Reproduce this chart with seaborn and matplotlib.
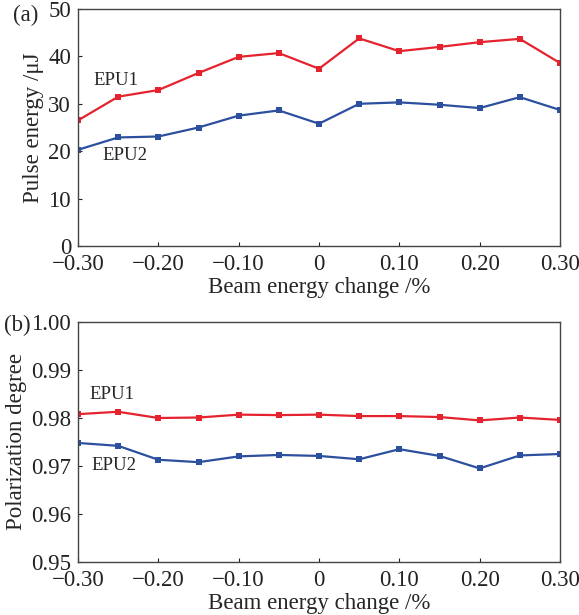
import numpy as np
import pandas as pd
import seaborn as sns
import matplotlib.pyplot as plt

sns.set_style("ticks")
plt.rcParams["font.family"] = ["Liberation Serif", "DejaVu Serif"]

beam_change = [-0.30, -0.25, -0.20, -0.15, -0.10, -0.05, 0.0, 0.05, 0.10, 0.15, 0.20, 0.25, 0.30]
pulse_epu1 = [26.5, 31.5, 32.9, 36.5, 39.9, 40.7, 37.4, 43.8, 41.1, 42.0, 43.0, 43.7, 38.6]
pulse_epu2 = [20.3, 22.9, 23.1, 25.0, 27.5, 28.6, 25.8, 30.0, 30.3, 29.8, 29.1, 31.4, 28.7]
pol_epu1 = [0.9808, 0.9813, 0.9800, 0.9801, 0.9807, 0.9806, 0.9807, 0.9804, 0.9804, 0.9802, 0.9795, 0.9801, 0.9796]
pol_epu2 = [0.9748, 0.9742, 0.9713, 0.9708, 0.9720, 0.9723, 0.9721, 0.9714, 0.9735, 0.9721, 0.9695, 0.9722, 0.9725]
xtick_vals = [-0.30, -0.20, -0.10, 0.0, 0.10, 0.20, 0.30]
xtick_labels = ["\u22120.30", "\u22120.20", "\u22120.10", "0", "0.10", "0.20", "0.30"]

red = "#e5232f"
blue = "#2c4f9e"
fs = 16.5

fig = plt.figure(figsize=(5.79, 6.15), dpi=100)
ax1 = fig.add_axes([78 / 579, 1 - 246 / 615, 482 / 579, 237 / 615])
ax2 = fig.add_axes([78 / 579, 1 - 562 / 615, 482 / 579, 240 / 615])

def draw(ax, y1, y2):
    df = pd.DataFrame({"x": beam_change * 2, "y": y1 + y2,
                       "unit": ["EPU1"] * len(y1) + ["EPU2"] * len(y2)})
    sns.lineplot(data=df, x="x", y="y", hue="unit", palette=[red, blue],
                 marker="s", markersize=5, markeredgewidth=0, linewidth=1.6,
                 legend=False, ax=ax)
    ax.set_xlim(-0.30, 0.30)
    ax.set_xticks(xtick_vals)
    ax.set_xticklabels(xtick_labels)
    ax.tick_params(direction="in", length=3, width=0.8, labelsize=fs, colors="#222222")
    ax.tick_params(axis="x", pad=6)
    ax.tick_params(axis="y", pad=5)
    for s in ax.spines.values():
        s.set_color("#444444")
        s.set_linewidth(1.0)
    ax.set_xlabel("Beam energy change /%", fontsize=fs, labelpad=1)

draw(ax1, pulse_epu1, pulse_epu2)
ax1.set_ylim(0, 50)
ax1.set_yticks([0, 10, 20, 30, 40, 50])
ax1.set_ylabel("Pulse energy /\u03bcJ", fontsize=fs, labelpad=3)
ax1.text(0.033, 0.70, "EPU1", transform=ax1.transAxes, fontsize=13.5, va="center")
ax1.text(0.05, 0.38, "EPU2", transform=ax1.transAxes, fontsize=13.5, va="center")
fig.text(13 / 579, 1 - 15 / 615, "(a)", fontsize=fs, va="center")

draw(ax2, pol_epu1, pol_epu2)
ax2.set_ylim(0.95, 1.00)
ax2.set_yticks([0.95, 0.96, 0.97, 0.98, 0.99, 1.00])
ax2.set_yticklabels(["0.95", "0.96", "0.97", "0.98", "0.99", "1.00"])
ax2.set_ylabel("Polarization degree", fontsize=fs, labelpad=3)
ax2.text(0.023, 0.696, "EPU1", transform=ax2.transAxes, fontsize=13.5, va="center")
ax2.text(0.027, 0.40, "EPU2", transform=ax2.transAxes, fontsize=13.5, va="center")
fig.text(4 / 579, 1 - 325 / 615, "(b)", fontsize=fs, va="center")

fig.savefig("out.png", dpi=100)
